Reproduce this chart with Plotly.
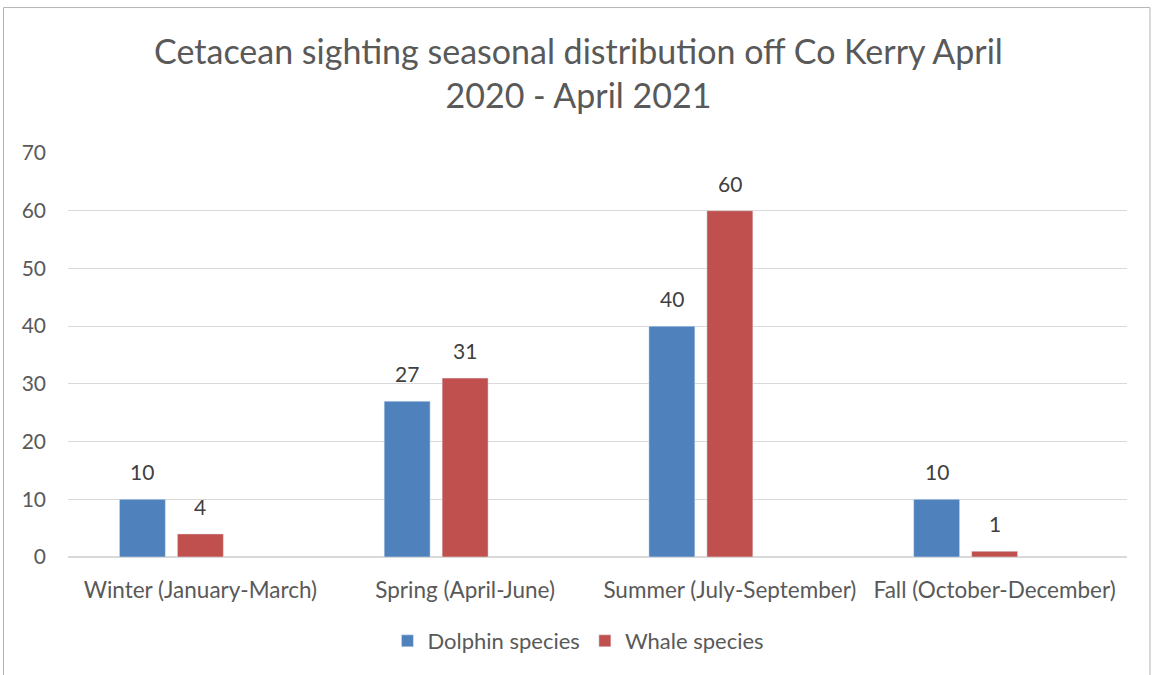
import plotly.graph_objects as go

categories = ["Winter (January-March)", "Spring (April-June)", "Summer (July-September)", "Fall (October-December)"]
dolphin = [10, 27, 40, 10]
whale = [4, 31, 60, 1]
empty_series = [None, None, None, None]

FONT = "Lato"
fig = go.Figure()
fig.add_trace(go.Bar(name="Dolphin species", x=categories, y=dolphin, marker_color="#4f81bd"))
fig.add_trace(go.Bar(name="Whale species", x=categories, y=whale, marker_color="#c0504d"))
fig.add_trace(go.Bar(name="", x=categories, y=empty_series, showlegend=False, hoverinfo="skip"))

# data labels (above bars, Excel-like spacing)
for series, shift in ((dolphin, -58), (whale, 0)):
    for cat, val in zip(categories, series):
        fig.add_annotation(x=cat, y=val, text=str(val), showarrow=False, xref="x", yref="y",
                           yanchor="bottom", xshift=shift, yshift=13,
                           font=dict(size=21, color="#404040", family=FONT))

fig.update_layout(
    width=1157, height=675,
    margin=dict(l=68, r=30, t=153, b=118),
    paper_bgcolor="white", plot_bgcolor="white",
    barmode="group", bargap=0.343, bargroupgap=0.207,
    font=dict(family=FONT, color="#595959", size=21),
    title=dict(text="Cetacean sighting seasonal distribution off Co Kerry April<br>2020 - April 2021",
               x=0.5, xref="container", xanchor="center", y=0.905, yref="container", yanchor="middle",
               font=dict(size=34, color="#595959", family=FONT)),
    legend=dict(orientation="h", x=0.482, xanchor="center", y=-0.208, yanchor="middle",
                font=dict(size=22, color="#595959", family=FONT), itemwidth=30, traceorder="normal"),
    showlegend=True,
)
fig.update_yaxes(range=[0, 70], dtick=10, showgrid=True, gridcolor="#d9d9d9", gridwidth=1,
                 zeroline=True, zerolinecolor="#d9d9d9", showline=False,
                 tickfont=dict(size=21, color="#595959"), ticklabelstandoff=21)
fig.update_xaxes(showgrid=False, showline=False, ticks="", tickfont=dict(size=22.5, color="#595959"),
                 ticklabelstandoff=17)

fig.add_shape(type="rect", xref="paper", yref="paper",
              x0=-0.0609, x1=1.0217, y0=-0.4, y1=1.360,
              line=dict(color="#b3b3b3", width=1), fillcolor="rgba(0,0,0,0)", layer="below")

fig.write_html("out.html", post_script="document.body.style.margin='0';",
               config={"displayModeBar": False})
